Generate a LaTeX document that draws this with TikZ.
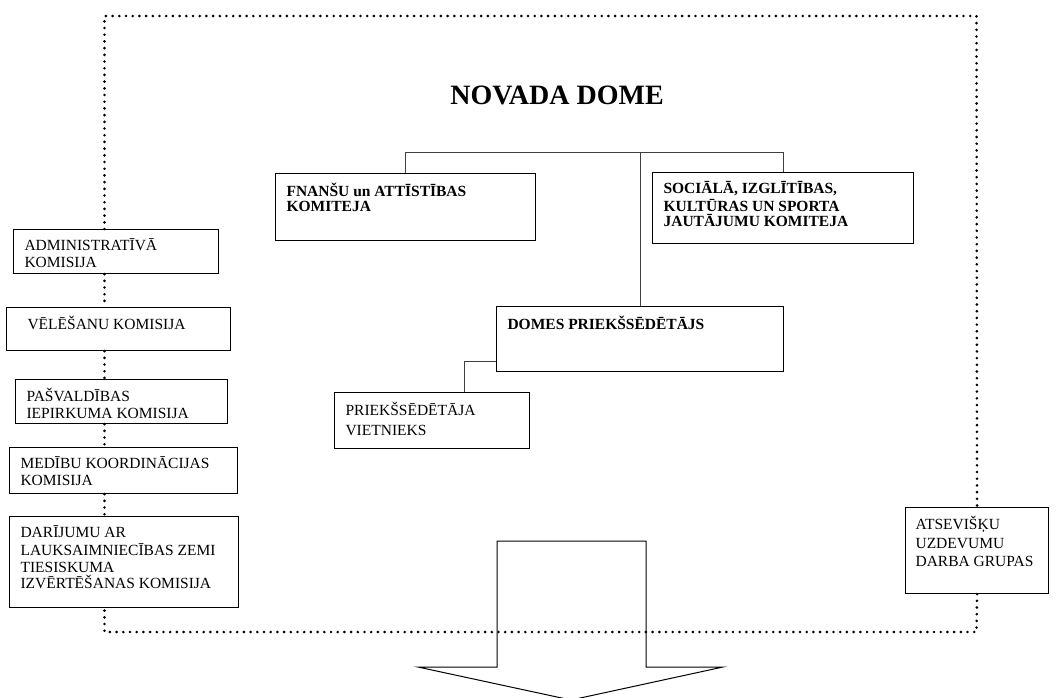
\documentclass[tikz,border=0pt]{standalone}
\usepackage{fontspec}
\setmainfont{Liberation Serif}

\newcommand{\boxlines}[3]{\parbox[c][#2][t]{#1}{\raggedright\strut #3}}

\begin{document}
\begin{tikzpicture}[x=1pt, y=-1pt,
  org/.style={draw, line width=1.1pt, anchor=north west, inner xsep=11pt, inner ysep=9pt,
    font=\fontsize{15.5}{16.7}\selectfont},
  orgb/.style={org, font=\fontsize{15.5}{15}\selectfont\bfseries},
  link/.style={line width=1pt, black!75},
  dots/.style={line width=2.9pt, line cap=round, dash pattern=on 0pt off 6.7pt},
  title/.style={font=\fontsize{28}{32}\selectfont\bfseries, anchor=base},
]
\useasboundingbox (0,0) rectangle (1064,697);

\coordinate (tl) at (104.5,16);
\coordinate (tr) at (976.5,16);
\coordinate (br) at (976.5,632);
\coordinate (bl) at (104.5,632);
\coordinate (bus) at (405,152);

\node[title] (dome) at (557,104) {NOVADA DOME};

\node[orgb] (fin) at (275,173) {\boxlines{238pt}{49pt}{FNANŠU un ATTĪSTĪBAS\\KOMITEJA}};
\node[orgb] (soc) at (652,172) {\boxlines{239pt}{53pt}{SOCIĀLĀ, IZGLĪTĪBAS,\\KULTŪRAS UN SPORTA\\JAUTĀJUMU KOMITEJA}};
\node[orgb] (dom) at (496,306) {\boxlines{265pt}{47pt}{DOMES PRIEKŠSĒDĒTĀJS}};
\node[org, font=\fontsize{15.5}{20}\selectfont] (viet) at (334,392) {\boxlines{173pt}{38pt}{PRIEKŠSĒDĒTĀJA\\VIETNIEKS}};

\node[org] (adm) at (13,229) {\boxlines{183pt}{26pt}{ADMINISTRATĪVĀ\\KOMISIJA}};
\node[org] (vel) at (6,307) {\boxlines{202pt}{25pt}{\hspace*{10pt}VĒLĒŠANU KOMISIJA}};
\node[org] (pasv) at (15,379) {\boxlines{190pt}{26pt}{PAŠVALDĪBAS\\IEPIRKUMA KOMISIJA}};
\node[org] (med) at (9,447) {\boxlines{206pt}{28pt}{MEDĪBU KOORDINĀCIJAS\\KOMISIJA}};
\node[org] (dar) at (9,516) {\boxlines{207pt}{73pt}{DARĪJUMU AR\\LAUKSAIMNIECĪBAS ZEMI\\TIESISKUMA\\IZVĒRTĒŠANAS KOMISIJA}};

\node[org, inner xsep=10pt, font=\fontsize{15.5}{18.3}\selectfont] (ats) at (905,507) {\boxlines{123pt}{68pt}{ATSEVIŠĶU\\UZDEVUMU\\DARBA GRUPAS}};

\draw[link] (fin.north) -- (fin.north |- bus) -| (soc.north);
\draw[link] (dom.north) -- (dom.north |- bus);
\draw[link] ([yshift=11pt]dom.south west) -| ([xshift=32pt]viet.north);

\draw[dots] (adm.north -| tl) -- (tl) -- (tr) -- (ats.north);
\draw[dots] (ats.south) -- (br) -- (bl) -- (dar.south -| bl);
\foreach \a/\b in {adm/vel, vel/pasv, pasv/med, med/dar}
  \draw[dots] (\a.south -| tl) -- (\b.north -| tl);

\draw[line width=1pt] (497,541) -- (497,667) -- (418,667) -- (571,700)
  -- (723,667) -- (646,667) -- (646,541) -- cycle;

\end{tikzpicture}
\end{document}
